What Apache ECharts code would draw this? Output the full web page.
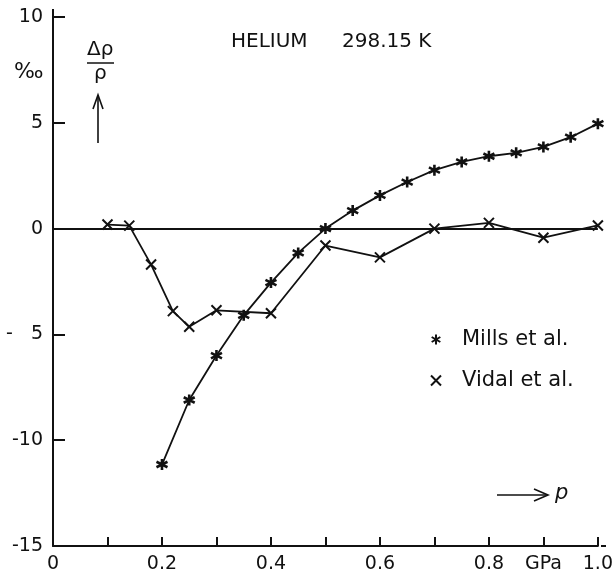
<!DOCTYPE html>
<html>
<head>
<meta charset="utf-8">
<script src="https://cdn.jsdelivr.net/npm/echarts@6/dist/echarts.min.js"></script>
<style>
  html, body { margin: 0; padding: 0; background: #fff; }
  #main { width: 616px; height: 577px; }
</style>
</head>
<body>
<div id="main"></div>
<script>
// pressure p (GPa) and deviation (per mille)
const millsP = [0.2, 0.25, 0.3, 0.35, 0.4, 0.45, 0.5, 0.55, 0.6, 0.65, 0.7, 0.75, 0.8, 0.85, 0.9, 0.95, 1.0]
const millsDev = [-11.15, -8.1, -6.0, -4.1, -2.55, -1.15, 0.0, 0.85, 1.57, 2.2, 2.76, 3.15, 3.42, 3.58, 3.86, 4.32, 4.96]

const vidalP = [0.1, 0.14, 0.18, 0.22, 0.25, 0.3, 0.4, 0.5, 0.6, 0.7, 0.8, 0.9, 1.0]
const vidalDev = [0.19, 0.14, -1.7, -3.9, -4.64, -3.86, -4.0, -0.8, -1.36, 0.0, 0.27, -0.43, 0.15]

const xTickLabels = ['0', '', '0.2', '', '0.4', '', '0.6', '', '0.8', 'GPa', '1.0']
const yTickLabels = { '10': '10', '5': '5', '0': '0', '-5': '-   5', '-10': '-10', '-15': '-15' }

const asterisk = 'path://M5,0L5,10M0.67,2.5L9.33,7.5M0.67,7.5L9.33,2.5'
const cross = 'path://M0,0L10,10M10,0L0,10'
const font = 'DejaVu Sans'
const ink = '#111'

let myChart = echarts.init(document.getElementById('main'), null, { renderer: 'canvas' })

const toPairs = (xs, ys) => xs.map((x, i) => [x, ys[i]])

myChart.setOption({
  animation: false,
  backgroundColor: '#fff',
  grid: { left: 53, right: 14, top: 17, bottom: 31 },
  xAxis: {
    type: 'value',
    min: 0, max: 1, interval: 0.1,
    axisLine: { show: true, onZero: false, lineStyle: { color: ink, width: 2 } },
    axisTick: { show: true, inside: true, length: 9, lineStyle: { color: ink, width: 2 } },
    splitLine: { show: false },
    axisLabel: {
      color: ink, fontFamily: font, fontSize: 19, margin: 9,
      formatter: v => xTickLabels[Math.round(v * 10)]
    }
  },
  yAxis: {
    type: 'value',
    min: -15, max: 10, interval: 5,
    axisLine: { show: true, onZero: false, lineStyle: { color: ink, width: 2 } },
    axisTick: { show: true, inside: true, length: 12, lineStyle: { color: ink, width: 2 } },
    splitLine: { show: false },
    axisLabel: {
      color: ink, fontFamily: font, fontSize: 19, margin: 10,
      formatter: v => yTickLabels[String(v)]
    }
  },
  legend: {
    orient: 'vertical',
    left: 425, top: 324,
    itemGap: 20,
    itemWidth: 10, itemHeight: 10,
    textStyle: { color: ink, fontFamily: font, fontSize: 21, padding: [0, 0, 0, 16] },
    data: [
      { name: 'Mills et al.', icon: asterisk },
      { name: 'Vidal et al.', icon: cross }
    ]
  },
  graphic: [
    { type: 'line', shape: { x1: 53, y1: 9, x2: 53, y2: 18 }, style: { stroke: ink, lineWidth: 2 } },
    { type: 'line', shape: { x1: 601, y1: 546, x2: 606, y2: 546 }, style: { stroke: ink, lineWidth: 2 } },
    { type: 'text', left: 231, top: 32, style: { text: 'HELIUM', fill: ink, font: '20px "DejaVu Sans"' } },
    { type: 'text', left: 342, top: 32, style: { text: '298.15 K', fill: ink, font: '20px "DejaVu Sans"' } },
    { type: 'text', left: 14, top: 61, style: { text: '‰', fill: ink, font: '22px "DejaVu Sans"' } },
    { type: 'text', left: 87, top: 40, style: { text: 'Δρ', fill: ink, font: '20px "DejaVu Sans"' } },
    { type: 'line', shape: { x1: 87, y1: 63, x2: 114, y2: 63 }, style: { stroke: ink, lineWidth: 1.5 } },
    { type: 'text', left: 94, top: 64, style: { text: 'ρ', fill: ink, font: '20px "DejaVu Sans"' } },
    { type: 'line', shape: { x1: 98, y1: 143, x2: 98, y2: 96 }, style: { stroke: ink, lineWidth: 1.6 } },
    { type: 'polyline', shape: { points: [[93, 109], [98, 95], [103, 109]] }, style: { stroke: ink, lineWidth: 1.6, fill: null } },
    { type: 'line', shape: { x1: 497, y1: 495, x2: 547, y2: 495 }, style: { stroke: ink, lineWidth: 1.6 } },
    { type: 'polyline', shape: { points: [[534, 489], [548, 495], [534, 501]] }, style: { stroke: ink, lineWidth: 1.6, fill: null } },
    { type: 'text', left: 555, top: 483, style: { text: 'p', fill: ink, font: 'italic 21px "DejaVu Sans"' } }
  ],
  series: [
    {
      name: 'Mills et al.',
      type: 'line',
      data: toPairs(millsP, millsDev),
      symbol: asterisk,
      symbolSize: 11,
      lineStyle: { color: ink, width: 1.8 },
      itemStyle: { color: ink, borderColor: ink, borderWidth: 2.6 },
      markLine: {
        silent: true,
        symbol: ['none', 'none'],
        label: { show: false },
        lineStyle: { color: ink, width: 2, type: 'solid' },
        data: [{ yAxis: 0 }]
      },
      z: 3
    },
    {
      name: 'Vidal et al.',
      type: 'line',
      data: toPairs(vidalP, vidalDev),
      symbol: cross,
      symbolSize: 10,
      lineStyle: { color: ink, width: 1.8 },
      itemStyle: { color: ink, borderColor: ink, borderWidth: 2 },
      z: 3
    }
  ]
})

window.addEventListener('resize', () => { myChart.resize() })
</script>
</body>
</html>
